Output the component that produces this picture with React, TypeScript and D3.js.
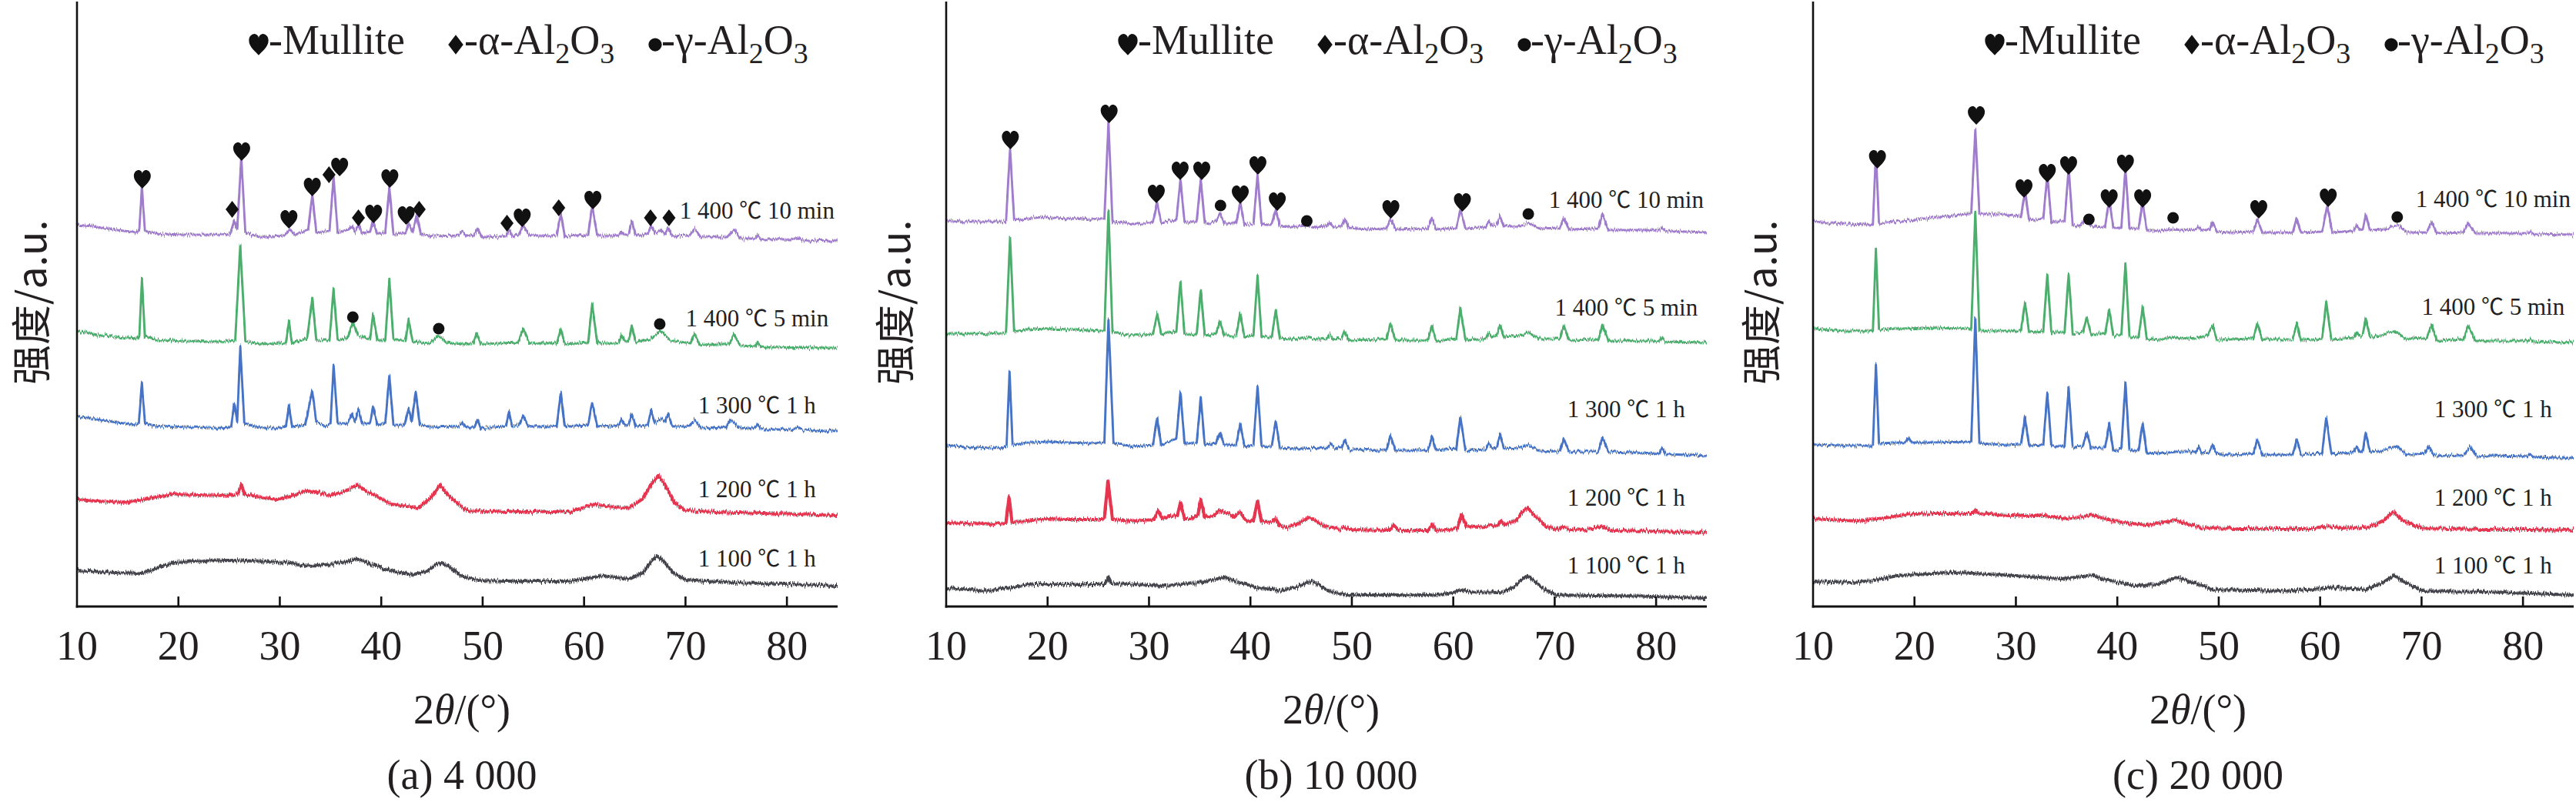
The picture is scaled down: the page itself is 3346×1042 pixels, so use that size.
import React from 'react';
import * as d3 from 'd3';

// 2θ (deg) vs intensity (a.u., traces already stacked with offsets)
const a1100 = [[10,47],[12,45],[14,44],[16.3,43],[18,50],[19.5,57],[22,59],[25,60],[28,59],[31,57],[33,52],[35,55],[36.5,58],[37.5,62],[38.5,58],[40,50],[41.5,45],[43,41],[44.5,46],[45.5,55],[46,56],[46.8,52],[47.8,40],[49.5,34],[52,33],[55,33],[58.6,33],[60.5,37],[61.9,40],[63,38],[64.5,36],[65.8,44],[66.6,58],[67.2,66],[67.9,58],[68.8,44],[69.9,35],[72,33],[75,31],[77.4,30],[80,29],[83,28],[85,27]];
const a1200 = [[10,139],[12,137],[14.7,135],[17,140],[19.5,146],[22,145],[24.9,144],[25.9,146],[26.2,159],[26.5,146],[28,142],[29.7,139],[31.5,145],[32.7,151],[33.8,148],[35,144],[36.5,150],[37.6,158],[38.6,150],[40,140],[41,133],[43.6,128],[44.8,140],[45.8,158],[46.8,142],[48.4,125],[52,123],[55,123],[58.6,123],[60.3,130],[61,133],[62,130],[64.4,128],[65.8,140],[66.7,160],[67.3,170],[67.9,160],[68.9,135],[69.9,125],[73,123],[77.4,121],[81,120],[85,118]];
const a1300 = [[10,247],[12,243],[14,239],[15.8,236],[16.1,238],[16.4,291],[16.7,238],[18,234],[21,233],[24,232],[25.2,233],[25.5,264],[25.8,240],[26.1,338],[26.5,238],[28,232],[30,232],[30.6,234],[30.9,262],[31.2,234],[32.5,236],[33.2,281],[33.6,240],[34.5,234],[35.0,238],[35.3,313],[35.7,238],[36.7,238],[37.1,251],[37.4,240],[37.75,257],[38.1,238],[38.9,238],[39.2,260],[39.6,236],[40.4,238],[40.8,300],[41.2,236],[42.3,236],[42.7,258],[43.0,240],[43.4,279],[43.8,236],[45,233],[47.6,234],[48.0,239],[48.4,233],[49.2,233],[49.5,243],[49.8,232],[52.3,234],[52.6,253],[52.9,234],[53.6,236],[54.0,248],[54.5,234],[57.3,234],[57.7,278],[58.1,234],[60.4,236],[60.8,265],[61.3,234],[63.4,235],[63.7,243],[64.0,236],[64.4,236],[64.7,250],[65.1,234],[66.3,236],[66.6,255],[67.0,238],[67.6,245],[68.0,240],[68.3,250],[68.7,234],[70.4,234],[70.9,243],[71.5,232],[74.0,233],[74.4,242],[74.8,239],[75.3,232],[76.8,231],[77.1,237],[77.5,230],[80.5,230],[81,233],[81.5,229],[85,228]];
const a1400s5 = [[10,358],[12,353],[14,350],[15.9,348],[16.15,352],[16.4,426],[16.7,350],[18,346],[21,345],[24,344],[25.6,345],[26.1,470],[26.6,345],[28,341],[30.6,342],[30.9,371],[31.2,342],[32.7,348],[33.2,401],[33.6,346],[34.9,346],[35.3,413],[35.7,346],[36.7,350],[37.2,370],[37.7,352],[38.9,348],[39.2,380],[39.6,346],[40.4,346],[40.8,425],[41.2,346],[42.4,346],[42.7,373],[43.1,344],[44.8,342],[45.6,353],[46.4,343],[48,341],[49.1,342],[49.4,355],[49.8,341],[53.5,343],[54.0,361],[54.6,342],[57.3,342],[57.7,361],[58.1,341],[60.4,343],[60.8,393],[61.3,342],[63.4,342],[63.7,352],[64.0,345],[64.4,345],[64.7,365],[65.1,343],[66.5,347],[67.5,358],[68.5,346],[70.5,342],[70.9,355],[71.4,340],[74.3,341],[74.8,353],[75.4,339],[76.9,338],[77.1,343],[77.5,337],[85,336]];
const a1400s10 = [[10,496],[11.5,494],[14,489],[15.9,486],[16.15,490],[16.4,545],[16.7,488],[18,484],[21,483],[24,483],[25.1,484],[25.5,501],[25.8,490],[26.2,583],[26.6,486],[28,480],[30.5,482],[31.0,490],[31.5,483],[32.8,490],[33.2,535],[33.6,486],[34.9,488],[35.3,558],[35.7,486],[36.8,490],[37.1,495],[37.4,487],[37.8,496],[38.1,485],[38.9,487],[39.2,501],[39.6,484],[40.4,486],[40.8,545],[41.2,484],[42.4,485],[42.7,498],[43.1,486],[43.5,508],[43.9,484],[45,481],[47.6,482],[48.0,488],[48.4,481],[49.1,482],[49.5,491],[49.9,480],[52.3,481],[52.6,490],[52.9,481],[53.6,484],[54.0,495],[54.6,482],[57.3,482],[57.7,511],[58.1,481],[60.4,483],[60.8,521],[61.3,482],[63.4,482],[63.7,487],[64.0,482],[64.4,484],[64.7,500],[65.1,482],[66.3,484],[66.6,495],[67.0,485],[67.6,489],[68.0,484],[68.3,492],[68.7,481],[70.4,482],[70.9,491],[71.5,480],[74.1,480],[74.8,490],[75.4,478],[76.9,478],[77.1,483],[77.5,477],[80.5,477],[81,480],[81.5,476],[85,475]];

const b1100 = [[10,24],[12,22],[14.2,20.5],[16,24],[18.7,29],[22,29],[25.7,29],[26,38],[26.3,30],[28,29],[31.6,27],[34.9,31],[36.5,35],[37.4,38],[38.5,33],[40.5,25],[42.8,20.5],[44.5,25],[45.4,30],[46,33],[46.8,28],[48,19],[49.5,15],[53,15],[58.4,15],[60,18],[60.7,21],[62,19],[64.6,18],[66,25],[66.7,34],[67.3,40],[68,33],[69,22],[70.2,15],[74,14],[78.6,13.5],[82,12],[85,11]];
const b1200 = [[10,109],[12,108],[14.8,107],[15.9,109],[16.2,142],[16.5,109],[18.5,112],[20,114],[22,113],[25.3,113],[25.6,115],[25.95,163],[26.4,113],[28.5,111],[30.5,113],[30.9,125],[31.3,114],[32.0,117],[32.8,118],[33.1,135],[33.5,114],[34.1,114],[34.8,118],[35.1,139],[35.5,116],[36.3,118],[37.0,125],[37.7,122],[38.4,116],[39.0,123],[39.5,112],[40.3,111],[40.7,137],[41.1,110],[42.1,110],[42.5,114],[42.9,105],[43.6,102],[45,110],[45.8,116],[46.6,110],[47.6,103],[48.9,100],[49.3,103],[49.7,100],[53.6,99],[54.1,106],[54.6,99],[57.5,99],[57.9,107],[58.3,99],[60.4,101],[60.8,120],[61.3,104],[62.5,103],[64.4,106],[64.7,111],[65.1,106],[66.2,112],[66.8,122],[67.3,128],[67.9,120],[69.2,104],[70.2,100],[70.9,104],[71.5,100],[73,99],[74.7,104],[75.5,99],[80,98],[85,96]];
const b1300 = [[10,209],[12,207],[15.3,206],[15.95,208],[16.25,305],[16.55,210],[18,213],[20,214],[22,213],[24,212],[25.6,213],[26.0,373],[26.5,212],[28.5,208],[30.4,210],[30.8,245],[31.2,210],[32.7,218],[33.1,279],[33.5,212],[34.7,212],[35.1,272],[35.5,210],[36.6,212],[37.0,227],[37.4,210],[38.6,210],[39.0,238],[39.4,208],[40.3,210],[40.7,286],[41.1,208],[42.1,208],[42.5,241],[42.9,206],[44.4,205],[47.6,206],[47.9,212],[48.2,206],[49.0,206],[49.3,217],[49.7,204],[53.4,203],[53.8,222],[54.3,203],[57.5,203],[57.9,220],[58.3,203],[60.3,205],[60.7,246],[61.2,203],[63.2,204],[63.5,212],[63.8,206],[64.3,207],[64.6,224],[65.0,205],[66.4,206],[67.4,210],[68.5,202],[70.5,201],[70.9,218],[71.4,201],[74.3,201],[74.7,220],[75.3,201],[80.3,199],[80.6,206],[80.9,198],[85,196]];
const b1400s5 = [[10,355],[12,354],[15.9,355],[16.3,480],[16.7,357],[18,360],[20,361],[22,360],[25.6,358],[26.0,515],[26.4,356],[28.5,352],[30.4,354],[30.8,381],[31.2,354],[32.7,358],[33.1,423],[33.5,354],[34.7,354],[35.1,411],[35.5,352],[36.6,354],[37.0,371],[37.4,352],[38.6,352],[39.0,381],[39.4,350],[40.3,352],[40.7,430],[41.1,350],[42.1,350],[42.5,385],[42.9,348],[44,347],[45.5,350],[46.5,347],[47.5,348],[47.8,354],[48.2,347],[49.0,348],[49.3,358],[49.7,346],[53.4,347],[53.8,368],[54.3,346],[57.5,346],[57.9,365],[58.3,345],[60.3,348],[60.7,388],[61.2,346],[63.2,348],[63.5,355],[63.8,350],[64.3,352],[64.6,366],[65.0,350],[66.5,352],[67.4,356],[68.4,348],[70.5,348],[70.9,365],[71.4,346],[74.3,347],[74.7,366],[75.3,345],[80.3,345],[80.6,350],[80.9,344],[85,343]];
const b1400s10 = [[10,501],[12,500],[15.9,500],[16.3,595],[16.7,502],[18,504],[19.5,506],[22,504],[25.6,503],[26.0,630],[26.4,500],[28.5,497],[30.4,499],[30.8,525],[31.2,499],[32.7,503],[33.1,555],[33.5,499],[34.7,500],[35.1,555],[35.5,498],[36.6,500],[37.0,511],[37.4,498],[38.6,498],[39.0,525],[39.4,496],[40.3,497],[40.7,561],[41.1,496],[42.1,497],[42.5,516],[42.9,494],[44,493],[45.5,495],[46.5,493],[47.5,494],[47.8,499],[48.2,493],[49.0,494],[49.3,503],[49.7,492],[51.5,490],[53.4,491],[53.8,505],[54.3,490],[57.5,491],[57.9,505],[58.3,490],[60.3,492],[60.7,516],[61.2,491],[63.2,493],[63.5,500],[63.8,495],[64.3,496],[64.6,508],[65.0,494],[66.5,494],[67.4,498],[68.5,491],[70.5,492],[70.9,505],[71.4,490],[74.3,491],[74.7,510],[75.3,489],[80.3,489],[80.6,492],[80.9,488],[85,486]];

const c1100 = [[10,33],[13.8,31],[16,34],[18.3,40],[21.6,43],[24,44],[26,43],[30,40],[34.5,36],[36.6,39],[37.5,41],[38.5,36],[41.7,27],[44,29],[45.9,38],[47,33],[49.5,22],[53,21],[56.7,20],[61.2,24.6],[64.5,22],[66.3,32],[67.3,40.6],[68.3,32],[70.1,20],[76.2,19],[81,17],[85,15]];
const c1200 = [[10,114],[14.4,111],[17,115],[19.4,119.5],[22,121],[25.8,121],[26.0,125],[26.3,121],[29.4,118],[32.8,118],[35,114],[36.7,117],[37.5,119],[38.4,115],[40.6,109],[42.9,106],[44.8,110],[45.7,112.5],[46.7,108],[48.4,102],[52,101],[56,101],[59.5,101],[60.6,104],[62,102],[64.8,103],[66.3,112],[67.2,123],[68.1,112],[70,102],[76,100],[81,100],[85,99]];
const c1300 = [[10,210],[13,209],[15.9,209],[16.2,315],[16.5,212],[18.5,213],[19.1,213],[19.4,220],[19.7,213],[22,213],[25.6,214],[26.0,375],[26.4,212],[29,210],[30.5,211],[30.9,246],[31.3,209],[32.7,210],[33.1,278],[33.5,208],[34.8,208],[35.2,284.5],[35.6,207],[36.6,208],[37.0,227],[37.4,206],[38.8,206],[39.2,238],[39.6,203],[40.4,205],[40.8,291],[41.2,203],[42.1,203],[42.5,238],[42.9,200],[44,199],[46,201],[47.7,201],[48.0,208],[48.3,200],[49.1,201],[49.4,210],[49.8,199],[50.5,197],[53.4,198],[53.8,217],[54.3,197],[57.3,197],[57.7,217],[58.1,197],[60.2,199],[60.6,246],[61.1,198],[63.3,200],[63.6,208],[63.9,201],[64.2,203],[64.5,226],[64.9,201],[66.0,202],[67.5,209],[68.5,197],[70.3,199],[70.7,208],[71.2,196],[74.2,197],[74.8,208],[75.4,195],[77,196],[80.4,195],[80.7,198],[81,194],[85,192.5]];
const c1400s5 = [[10,361],[13,358],[15.9,358],[16.2,465],[16.5,360],[18.5,361],[22,362],[25.6,361],[26.0,513],[26.4,358],[29,358],[30.5,358],[30.9,395],[31.3,356],[32.7,358],[33.1,431],[33.5,356],[34.8,356],[35.2,433],[35.6,354],[36.6,356],[37.0,376],[37.4,354],[38.8,354],[39.2,386],[39.6,352],[40.4,352],[40.8,446],[41.2,350],[42.1,350],[42.5,390],[42.9,348],[44,347],[45.8,350],[47,348],[48.5,350],[48.9,352],[49.4,366],[49.8,347],[51,347],[53.4,348],[53.8,368],[54.3,347],[57.3,347],[57.7,368],[58.1,346],[60.2,348],[60.6,396],[61.1,347],[63.3,349],[63.6,357],[63.9,351],[64.2,353],[64.5,375],[64.9,350],[66.0,352],[67.3,358],[68.5,348],[70.5,349],[71.0,366],[71.5,345],[74.1,347],[74.6,365],[75.3,345],[78,345],[80.4,345],[80.7,348],[81,344],[85,343]];
const c1400s10 = [[10,500],[13,497],[15.9,496],[16.2,590],[16.5,498],[18,500],[21,504],[24,508],[25.6,511],[26.0,620],[26.4,510],[28,510],[30,508],[30.5,506],[30.9,540],[31.3,502],[32.7,504],[33.1,561],[33.5,500],[34.8,500],[35.2,570],[35.6,496],[36.3,494],[37.0,505],[37.4,494],[38.8,493],[39.2,530],[39.6,492],[40.4,492],[40.8,570],[41.2,491],[42.1,491],[42.5,526],[42.9,489],[44,488],[45.5,490],[46.5,489],[47.7,490],[48.0,493],[48.3,489],[49.1,490],[49.4,500],[49.8,487],[51,486],[53.4,487],[53.8,503],[54.3,486],[57.3,486],[57.7,505],[58.1,486],[60.2,487],[60.7,521],[61.2,486],[63.3,488],[63.6,495],[63.9,489],[64.2,490],[64.5,510],[64.9,489],[66.5,490],[67.6,496],[68.6,486],[70.5,486],[71.0,500],[71.5,485],[74.1,486],[74.6,498],[75.3,485],[80.4,485],[80.7,487],[81,484],[85,483]];

// phase markers: [2θ, intensity, type]  m = mullite, a = α-Al2O3, g = γ-Al2O3
const markersA = [[16.44,555,'m'],[26.24,591,'m'],[30.9,503,'m'],[33.2,545,'m'],[35.9,571,'m'],[39.25,510,'m'],[40.85,556,'m'],[42.46,508,'m'],[53.9,505,'m'],[60.87,528,'m'],[25.3,516,'a'],[34.85,561,'a'],[37.75,505,'a'],[43.74,516,'a'],[52.4,498,'a'],[57.5,518,'a'],[66.55,505,'a'],[68.37,505,'a'],[37.2,376,'g'],[45.67,361,'g'],[67.46,367,'g']];
const markersB = [[16.33,606,'m'],[26.07,640,'m'],[30.72,536,'m'],[33.07,566,'m'],[35.2,566,'m'],[39.0,535,'m'],[40.74,573,'m'],[42.65,526,'m'],[53.85,516,'m'],[60.9,525,'m'],[37.05,521,'g'],[45.56,501,'g'],[67.4,510,'g']];
const markersC = [[16.35,581,'m'],[26.1,638,'m'],[30.8,543,'m'],[33.1,563,'m'],[35.2,573,'m'],[39.2,530,'m'],[40.8,575,'m'],[42.5,530,'m'],[53.95,516,'m'],[60.8,531,'m'],[37.2,503,'g'],[45.5,505,'g'],[67.6,506,'g']];

// label = [temperature part, time part]; rendered as "1 400 ℃ 10 min"
const seriesTemps = ['1 100', '1 200', '1 300', '1 400', '1 400'];
const seriesTimes = ['1 h', '1 h', '1 h', '5 min', '10 min'];
const seriesColors = ['#45454d', '#e5344f', '#4673c6', '#4cae6c', '#a07ccc'];
const labelLevelsA = [52, 142, 251, 364, 504];
const labelLevelsB = [43, 131, 246, 378, 518];
const labelLevelsC = [43, 131, 246, 379, 519];
const tickValues = [10, 20, 30, 40, 50, 60, 70, 80];
const captions = ['(a) 4 000', '(b) 10 000', '(c) 20 000'];

const W = 3346;
const H = 1042;
const AXIS_Y = 788;
const TOP_Y = 2;
const PLOT_W = 988;
const SERIF = '"Liberation Serif", "Times New Roman", serif';
const CJK = '"Noto Sans CJK SC", sans-serif';
const INK = '#231f20';

const panels = [
  { x0: 100, yLabelX: 41, series: [a1100, a1200, a1300, a1400s5, a1400s10], markers: markersA, labels: labelLevelsA, caption: captions[0] },
  { x0: 1229, yLabelX: 1163, series: [b1100, b1200, b1300, b1400s5, b1400s10], markers: markersB, labels: labelLevelsB, caption: captions[1] },
  { x0: 2355, yLabelX: 2288, series: [c1100, c1200, c1300, c1400s5, c1400s10], markers: markersC, labels: labelLevelsC, caption: captions[2] },
];

const heartPath = (cx: number, cy: number, w: number, h: number) => {
  const sx = w / 2, sy = h / 2;
  const p = (x: number, y: number) => `${cx + x * sx},${cy + y * sy}`;
  return `M${p(0, 1)} C${p(-0.25, 0.7)} ${p(-1, 0.25)} ${p(-1, -0.38)} C${p(-1, -0.85)} ${p(-0.6, -1.05)} ${p(-0.35, -1)} C${p(-0.15, -0.95)} ${p(0, -0.8)} ${p(0, -0.62)} C${p(0, -0.8)} ${p(0.15, -0.95)} ${p(0.35, -1)} C${p(0.6, -1.05)} ${p(1, -0.85)} ${p(1, -0.38)} C${p(1, 0.25)} ${p(0.25, 0.7)} ${p(0, 1)} Z`;
};
const diamondPath = (cx: number, cy: number, w: number, h: number) =>
  `M${cx},${cy - h / 2} L${cx + w / 2},${cy} L${cx},${cy + h / 2} L${cx - w / 2},${cy} Z`;

const Marker = ({ type, cx, cy, big }: { type: string; cx: number; cy: number; big?: boolean }) => {
  const k = big ? 1.15 : 1;
  if (type === 'm') return <path d={heartPath(cx, cy, 22 * k, 24 * k)} fill="#111" />;
  if (type === 'a') return <path d={diamondPath(cx, cy, 17 * k, 22 * k)} fill="#111" />;
  return <circle cx={cx} cy={cy} r={7.5 * k} fill="#111" />;
};

const Formula = ({ x, y, greek }: { x: number; y: number; greek: string }) => (
  <text x={x} y={y} fontFamily={SERIF} fontSize={54} fill={INK}>
    {`-${greek}-Al`}
    <tspan fontSize={38} dy={12}>2</tspan>
    <tspan dy={-12}>O</tspan>
    <tspan fontSize={38} dy={12}>3</tspan>
  </text>
);

const Panel = ({ p }: { p: (typeof panels)[number] }) => {
  const x = d3.scaleLinear().domain([10, 85]).range([p.x0, p.x0 + PLOT_W]);
  const y = d3.scaleLinear().domain([0, AXIS_Y - TOP_Y]).range([AXIS_Y, TOP_Y]);
  const line = d3.line<number[]>().x((d) => x(d[0])).y((d) => y(d[1]));
  const legendY = 58;
  return (
    <g>
      <g filter="url(#fuzz)">
        {p.series.map((s, i) => (
          <path key={i} d={line(s as number[][]) || ''} fill="none" stroke={seriesColors[i]}
            strokeWidth={i < 2 ? 4.2 : 2.9} strokeLinejoin="round" />
        ))}
      </g>
      {p.markers.map((m, i) => (
        <Marker key={i} type={m[2] as string} cx={x(m[0] as number)} cy={y(m[1] as number)} />
      ))}
      {p.labels.map((lv, i) => (
        <text key={i} x={x(77.05)} y={y(lv)} textAnchor="middle" fontFamily={SERIF} fontSize={31} fill={INK}>
          {seriesTemps[i]} <tspan fontFamily={CJK} fontSize={29}>℃</tspan> {seriesTimes[i]}
        </text>
      ))}
      {/* axes */}
      <line x1={p.x0} x2={p.x0} y1={TOP_Y} y2={AXIS_Y + 1.5} stroke="#111" strokeWidth={2.6} />
      <line x1={p.x0 - 1.3} x2={x(85)} y1={AXIS_Y} y2={AXIS_Y} stroke="#111" strokeWidth={3} />
      {tickValues.map((t) => (
        <g key={t}>
          {t > 10 && <line x1={x(t)} x2={x(t)} y1={AXIS_Y} y2={AXIS_Y - 13} stroke="#111" strokeWidth={2.6} />}
          <text x={x(t)} y={857} textAnchor="middle" fontFamily={SERIF} fontSize={54} fill={INK}>{t}</text>
        </g>
      ))}
      <text x={p.x0 + 500} y={940} textAnchor="middle" fontFamily={SERIF} fontSize={54} fill={INK}>
        2<tspan fontStyle="italic">θ</tspan>/(°)
      </text>
      <text x={p.x0 + 500} y={1025} textAnchor="middle" fontFamily={SERIF} fontSize={54} fill={INK}>
        {p.caption}
      </text>
      {/* y-axis title, reads bottom to top, spans roughly y 293..500 */}
      <text transform={`translate(${p.yLabelX + 19},500) rotate(-90)`} textAnchor="start"
        fontFamily={CJK} fontSize={52} fill={INK}>
        强度/a.u.
      </text>
      {/* legend */}
      <Marker type="m" cx={p.x0 + 236} cy={legendY} big />
      <text x={p.x0 + 249} y={70} fontFamily={SERIF} fontSize={54} fill={INK}>-Mullite</text>
      <Marker type="a" cx={p.x0 + 492} cy={legendY} big />
      <Formula x={p.x0 + 503} y={70} greek="α" />
      <Marker type="g" cx={p.x0 + 751} cy={legendY} big />
      <Formula x={p.x0 + 759} y={70} greek="γ" />
    </g>
  );
};

export default function App() {
  return (
    <svg width={W} height={H} viewBox={`0 0 ${W} ${H}`} style={{ position: 'absolute', left: 0, top: 0, background: '#fff' }}>
      <defs>
        <filter id="fuzz" filterUnits="userSpaceOnUse" x={0} y={0} width={W} height={H}>
          <feTurbulence type="fractalNoise" baseFrequency="0.8 0.04" numOctaves={2} seed={5} result="noise" />
          <feColorMatrix in="noise" type="matrix" values="0 0 0 0 0.5  0 1 0 0 0  0 0 0 0 0  0 0 0 0 1" result="disp" />
          <feDisplacementMap in="SourceGraphic" in2="disp" scale={8} xChannelSelector="R" yChannelSelector="G" />
        </filter>
      </defs>
      <rect width={W} height={H} fill="#fff" />
      {panels.map((p, i) => (
        <Panel key={i} p={p} />
      ))}
    </svg>
  );
}
